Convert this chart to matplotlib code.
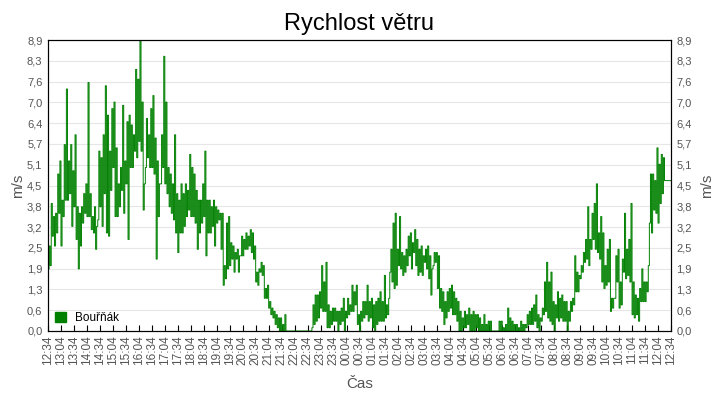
import numpy as np
import matplotlib.pyplot as plt

plt.rcParams['font.family'] = ['Liberation Sans', 'DejaVu Sans']

# rychlost vetru v 5min oknech od 12:34 do 12:34 dalsiho dne:
# minimum a maximum v kazdem okne
minimum = [
    1.9, 2.0, 2.9, 2.6, 3.0, 3.6, 2.6, 3.5, 4.0, 4.0,
    4.2, 3.2, 3.8, 2.8, 1.9, 2.6, 3.3, 3.6, 3.5, 3.5,
    3.1, 3.0, 2.5, 3.4, 3.8, 3.2, 4.2, 3.0, 2.9, 4.3,
    5.0, 3.5, 3.5, 3.8, 4.3, 3.6, 4.5, 2.8, 5.0, 5.0,
    5.5, 5.3, 5.8, 5.5, 3.7, 5.0, 5.3, 5.0, 5.0, 4.8,
    2.2, 3.5, 4.5, 5.0, 4.5, 4.2, 3.8, 3.6, 3.4, 3.0,
    2.4, 3.0, 3.0, 3.2, 3.5, 3.7, 3.5, 3.5, 3.3, 2.5,
    3.0, 3.3, 3.5, 2.3, 3.0, 3.0, 3.2, 2.6, 3.3, 3.4,
    2.5, 1.4, 1.6, 1.9, 2.0, 2.2, 1.8, 2.2, 1.8, 2.3,
    2.3, 2.5, 2.5, 2.6, 2.4, 2.2, 1.5, 1.4, 1.8, 1.7,
    1.0, 1.0, 0.7, 0.5, 0.4, 0.2, 0.1, 0.0, 0.0, 0.0,
    0.0, 0.0, 0.0, 0.0, 0.0, 0.0, 0.0, 0.0, 0.0, 0.0,
    0.0, 0.0, 0.1, 0.2, 0.3, 0.4, 0.7, 0.6, 0.6, 0.1,
    0.1, 0.2, 0.3, 0.3, 0.0, 0.2, 0.3, 0.0, 0.4, 0.5,
    0.6, 0.6, 0.8, 0.2, 0.0, 0.3, 0.4, 0.5, 0.3, 0.4,
    0.1, 0.0, 0.2, 0.3, 0.3, 0.3, 0.4, 0.5, 1.8, 1.5,
    1.3, 1.4, 2.0, 1.9, 1.7, 1.8, 2.0, 2.3, 1.9, 2.4,
    2.0, 1.7, 1.8, 1.7, 2.1, 1.9, 1.6, 1.1, 2.0, 2.1,
    1.3, 0.7, 0.6, 0.2, 0.4, 0.6, 0.7, 0.5, 0.5, 0.3,
    0.0, 0.0, 0.1, 0.1, 0.2, 0.0, 0.0, 0.0, 0.1, 0.0,
    0.0, 0.0, 0.0, 0.0, 0.0, 0.0, 0.0, 0.0, 0.0, 0.0,
    0.0, 0.0, 0.0, 0.0, 0.0, 0.0, 0.0, 0.0, 0.0, 0.0,
    0.0, 0.1, 0.2, 0.2, 0.2, 0.3, 0.1, 0.0, 0.3, 0.5,
    0.6, 0.4, 0.3, 0.2, 0.0, 0.4, 0.3, 0.4, 0.3, 0.3,
    0.0, 0.3, 0.6, 0.8, 1.2, 1.2, 1.6, 1.8, 2.1, 2.2,
    2.0, 2.5, 2.8, 2.5, 2.4, 2.2, 1.5, 1.3, 1.4, 1.5,
    0.6, 0.7, 1.0, 1.5, 0.7, 0.8, 1.8, 1.6, 1.7, 1.5,
    0.5, 0.4, 0.5, 0.3, 0.9, 0.9, 0.9, 1.2, 3.3, 3.0,
    3.7, 3.6, 3.3, 3.9, 4.2, 4.6, 4.6, 4.6, 4.6,
]
maximum = [
    2.6, 3.9, 3.5, 3.6, 4.8, 5.2, 4.0, 5.7, 7.4, 5.2,
    5.7, 4.9, 6.0, 3.8, 3.6, 3.8, 4.2, 4.5, 7.6, 4.2,
    3.5, 3.8, 3.2, 5.5, 5.3, 6.0, 7.5, 6.6, 5.5, 6.8,
    7.0, 5.6, 4.5, 5.0, 6.9, 5.2, 6.4, 6.6, 6.3, 6.0,
    8.0, 7.7, 8.9, 7.0, 4.5, 6.5, 6.0, 6.8, 7.2, 5.9,
    5.2, 4.5, 6.0, 8.4, 7.0, 5.0, 4.8, 4.5, 6.0, 4.2,
    4.0, 4.5, 4.2, 4.5, 4.3, 5.4, 5.0, 4.8, 4.3, 4.0,
    4.0, 4.5, 5.5, 4.0, 4.0, 3.8, 4.0, 3.8, 3.7, 3.6,
    3.6, 2.0, 3.3, 3.5, 2.7, 2.6, 2.4, 2.5, 2.3, 2.9,
    2.8, 3.0, 2.9, 3.1, 3.0, 2.6, 1.8, 1.9, 2.1, 2.0,
    1.3, 1.4, 0.9, 0.7, 0.6, 0.5, 0.4, 0.4, 0.2, 0.5,
    0.0, 0.0, 0.0, 0.0, 0.0, 0.0, 0.0, 0.0, 0.0, 0.0,
    0.0, 0.0, 0.8, 1.1, 1.1, 1.2, 2.0, 1.5, 2.1, 0.8,
    0.6, 0.7, 0.7, 0.6, 0.6, 0.7, 1.0, 0.6, 1.0, 0.8,
    1.4, 1.2, 1.4, 0.5, 0.6, 0.9, 0.9, 1.4, 0.9, 1.0,
    0.8, 0.9, 1.0, 1.2, 0.9, 1.7, 0.8, 1.0, 2.5, 3.3,
    3.6, 2.5, 3.5, 2.4, 2.3, 2.5, 2.9, 3.0, 2.7, 3.1,
    2.8, 2.5, 2.6, 2.3, 2.5, 2.6, 2.3, 1.9, 2.4, 2.4,
    2.3, 1.3, 1.2, 0.9, 1.2, 1.3, 1.4, 1.2, 1.0, 0.9,
    0.6, 0.4, 0.6, 0.5, 0.7, 0.5, 0.6, 0.5, 0.5, 0.4,
    0.2, 0.5, 0.2, 0.3, 0.3, 0.0, 0.0, 0.0, 0.3, 0.3,
    0.1, 0.2, 0.7, 0.4, 0.3, 0.2, 0.2, 0.1, 0.3, 0.2,
    0.2, 0.5, 0.6, 0.7, 0.8, 1.1, 0.5, 0.4, 0.7, 1.5,
    2.1, 1.5, 1.8, 0.9, 0.8, 1.2, 1.0, 1.1, 0.9, 0.9,
    0.6, 0.9, 1.0, 2.3, 1.8, 1.7, 2.0, 2.4, 2.8, 3.8,
    2.8, 3.6, 3.9, 4.5, 3.0, 3.5, 3.0, 2.0, 2.5, 2.8,
    1.0, 1.0, 2.3, 2.5, 1.5, 2.2, 3.6, 2.5, 2.8, 3.9,
    1.5, 1.1, 1.0, 1.3, 1.9, 1.5, 1.5, 2.0, 4.8, 4.8,
    4.6, 5.6, 5.1, 5.4, 5.3, 4.6, 4.6, 4.6, 4.6,
]
krok_min = 5

popisky_x = ["12:34", "13:04", "13:34", "14:04", "14:34", "15:04", "15:34",
             "16:04", "16:34", "17:04", "17:34", "18:04", "18:34", "19:04",
             "19:34", "20:04", "20:34", "21:04", "21:34", "22:04", "22:34",
             "23:04", "23:34", "00:04", "00:34", "01:04", "01:34", "02:04",
             "02:34", "03:04", "03:34", "04:04", "04:34", "05:04", "05:34",
             "06:04", "06:34", "07:04", "07:34", "08:04", "08:34", "09:04",
             "09:34", "10:04", "10:34", "11:04", "11:34", "12:04", "12:34"]
popisky_y = ["0,0", "0,6", "1,3", "1,9", "2,5", "3,2", "3,8", "4,5",
             "5,1", "5,7", "6,4", "7,0", "7,6", "8,3", "8,9"]
y_max = 8.9

seda = "#555555"
zelena = "#008000"

# v kazdem okne nejdriv minimum a pak maximum
hodnoty = np.column_stack([minimum, maximum]).ravel()
t = np.arange(len(hodnoty)) * krok_min / 2

fig = plt.figure(figsize=(7.2, 4.0), dpi=100)
ax = fig.add_axes([48 / 720, 69 / 400, 623 / 720, 291 / 400])

ax.plot(t, hodnoty, color=zelena, lw=0.7, drawstyle="steps-post")

ax.set_xlim(0, 1440)
ax.set_ylim(0, y_max)

yt = np.linspace(0, y_max, len(popisky_y))
ax.set_yticks(yt)
ax.set_yticklabels(popisky_y)
ax.set_xticks(np.arange(len(popisky_x)) * 30)
ax.set_xticklabels(popisky_x, rotation=90)

ax.grid(axis="y", color="#e6e6e6", lw=0.8)
ax.set_axisbelow(True)
ax.tick_params(axis="x", direction="in", length=4, labelsize=8.5, labelcolor=seda, pad=3)
ax.tick_params(axis="y", length=0, labelsize=8, labelcolor=seda, pad=4)

ax2 = ax.twinx()
ax2.set_ylim(0, y_max)
ax2.set_yticks(yt)
ax2.set_yticklabels(popisky_y)
ax2.tick_params(axis="y", length=0, labelsize=8, labelcolor=seda, pad=4)
ax2.set_ylabel("m/s", fontsize=11, color=seda, labelpad=6)

ax.set_ylabel("m/s", fontsize=11, color=seda, labelpad=1.5)
ax.set_xlabel("Čas", fontsize=11, color=seda, labelpad=9)
ax.set_title("Rychlost větru", fontsize=17, pad=7)

ax.legend(handles=[plt.Rectangle((0, 0), 1, 1, color=zelena)], labels=["Bouřňák"],
          loc="lower left", frameon=False, fontsize=8.5, handlelength=0.95,
          handleheight=0.95, borderpad=0, borderaxespad=0.6, handletextpad=0.75)

fig.savefig("out.png", dpi=100)
